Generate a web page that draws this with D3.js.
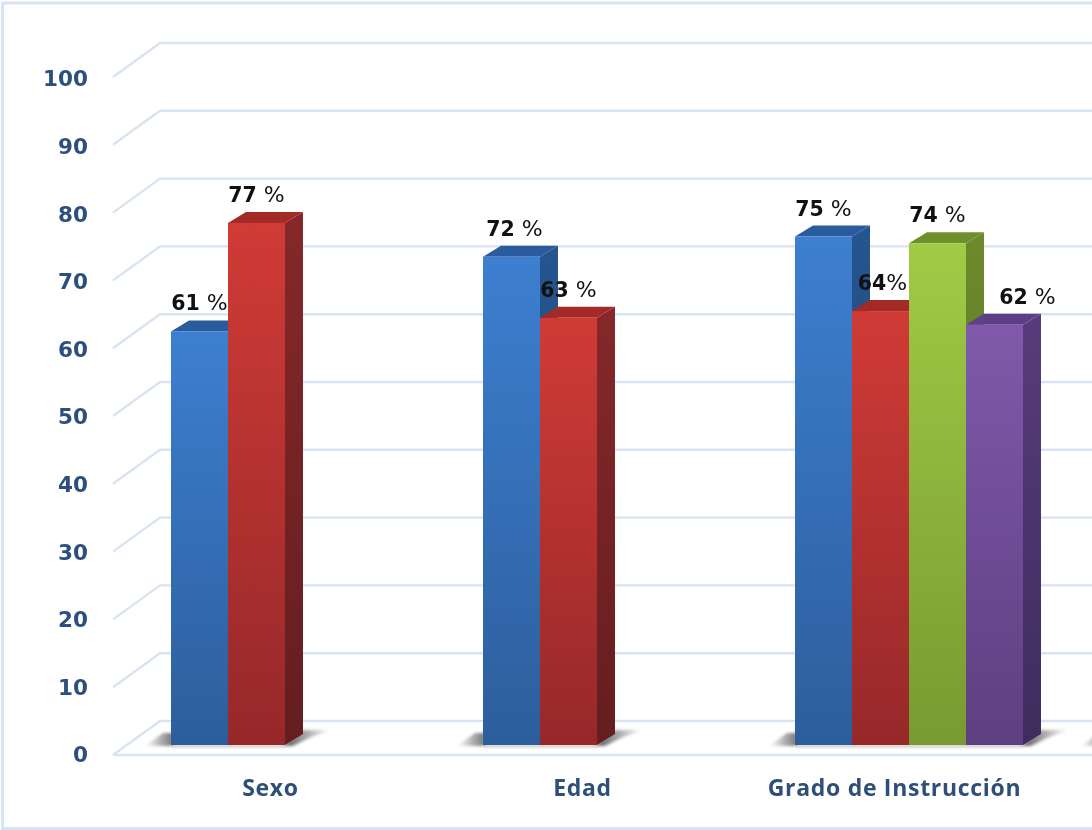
<!DOCTYPE html>
<html><head><meta charset="utf-8">
<script src="https://cdn.jsdelivr.net/npm/d3@7"></script>
<style>
html,body{margin:0;padding:0;background:#fff;overflow:hidden}
svg{display:block;filter:blur(0.4px)}
.tick text{font-family:"DejaVu Sans";font-weight:700;font-size:21.5px;fill:#2b4f7e}
.cat{font-family:"Open Sans";font-weight:700;font-size:23px;letter-spacing:0.7px;fill:#2f4f78;text-anchor:middle}
.lab{font-family:"DejaVu Sans";font-weight:700;font-size:20.5px;fill:#111;text-anchor:middle}
.lab .pct{font-weight:400;font-size:22px}
</style></head><body>
<script>
const categories=["Sexo","Edad","Grado de Instrucción"];
const sexoValues=[61,77];
const edadValues=[72,63];
const gradoValues=[75,64,74,62];
const groupValues=[sexoValues,edadValues,gradoValues];
const yTicks=[0,10,20,30,40,50,60,70,80,90,100];
const seriesColors=[
 {top:"#2a5b9c",side0:"#25558f",side1:"#1f4675",f0:"#3d7fd0",f1:"#2c5e9c"},
 {top:"#a42a27",side0:"#85282a",side1:"#651d1f",f0:"#d03b36",f1:"#96282a"},
 {top:"#6f8f2c",side0:"#6d8a2c",side1:"#566d22",f0:"#a0cb46",f1:"#789a30"},
 {top:"#5e3f87",side0:"#573c7c",side1:"#3f2c5c",f0:"#8059ab",f1:"#5e3f80"}
];
const W=1092,H=830;
const svg=d3.select("body").append("svg").attr("width",W).attr("height",H);
const defs=svg.append("defs");
function vg(id,a,b){const g=defs.append("linearGradient").attr("id",id).attr("x1",0).attr("x2",0).attr("y1",0).attr("y2",1);
 g.append("stop").attr("offset",0).attr("stop-color",a);g.append("stop").attr("offset",1).attr("stop-color",b);}
seriesColors.forEach((c,i)=>{vg("f"+i,c.f0,c.f1);vg("s"+i,c.side0,c.side1);});
function hg(id,a,oa,ob){const g=defs.append("linearGradient").attr("id",id).attr("x1",0).attr("x2",1).attr("y1",0).attr("y2",0);
 g.append("stop").attr("offset",0).attr("stop-color",a).attr("stop-opacity",oa);
 g.append("stop").attr("offset",1).attr("stop-color",a).attr("stop-opacity",ob);}
hg("shR","#3a3a3a",0.85,0);hg("shL","#3a3a3a",0,0.7);
const sb=defs.append("filter").attr("id","soft").attr("x","-20%").attr("y","-30%").attr("width","140%").attr("height","160%");
sb.append("feGaussianBlur").attr("stdDeviation",1.8);

// frame
const border="#d9e4f2";
svg.append("rect").attr("x",2.5).attr("y",3).attr("width",W+10).attr("height",H-3-1.5).attr("fill","#fff").attr("stroke",border).attr("stroke-width",3);

// scales
const y=d3.scaleLinear().domain([0,100]).range([745,67]);
const yLab=d3.scaleLinear().domain([0,100]).range([755,79]);
const depth={x:18,y:11};
const grid={front:113,back:160,dy:-34,fy:10};
const step=312,barW=57;
const x=d3.scaleBand().domain(d3.range(4)).range([72,72+4*step]).padding(0);
const groupLeft=i=>x(i)+99;
const catX=i=>x(i)+198.5;
const slot=d3.scaleBand().domain(d3.range(4)).range([0,4*barW]);

// grid
const gy=v=>y(v)+grid.fy;
const gridG=svg.append("g").attr("fill","none").attr("stroke","#d8e4f1").attr("stroke-width",2.4);
gridG.selectAll("path").data(yTicks).join("path")
 .attr("d",v=>d3.line()([[grid.front,gy(v)],[grid.back,gy(v)+grid.dy],[W,gy(v)+grid.dy]]));
gridG.append("path").attr("d",d3.line()([[grid.front,gy(0)],[W,gy(0)]]));

// y axis labels
svg.append("g").attr("transform","translate(88,0)")
 .call(d3.axisLeft(yLab).tickValues(yTicks).tickSize(0).tickPadding(0).tickFormat(d3.format("d")))
 .call(g=>g.select(".domain").remove());

// floor shadows
const base=y(0);
const shadowG=svg.append("g").attr("filter","url(#soft)");
d3.range(4).forEach(i=>{
 const gl=groupLeft(i);
 shadowG.append("path").attr("fill","url(#shL)")
  .attr("d",d3.line()([[gl-26,base+1],[gl-8,base-12],[gl+2,base-12],[gl+2,base+1]])+"Z");
});
groupValues.forEach((vals,i)=>{
 const l=groupLeft(i),r=l+vals.length*barW;
 shadowG.append("rect").attr("x",l).attr("y",base).attr("width",r-l).attr("height",2).attr("fill","#b4b4b4");
 shadowG.append("path").attr("fill","url(#shR)")
  .attr("d",d3.line()([[r-2,base+1],[r+18,base-15],[r+46,base-15],[r+24,base-7],[r+8,base+1]])+"Z");
});

// bars
const bars=svg.append("g");
const labels=[];
groupValues.forEach((vals,i)=>{
 vals.forEach((v,j)=>{
  const l=groupLeft(i)+slot(j),r=l+barW,t=y(v),c=j;
  const g=bars.append("g");
  g.append("path").attr("fill",`url(#s${c})`)
   .attr("d",d3.line()([[r,t],[r+depth.x,t-depth.y],[r+depth.x,base-depth.y],[r,base]])+"Z");
  g.append("path").attr("fill",seriesColors[c].top)
   .attr("d",d3.line()([[l,t],[l+depth.x,t-depth.y],[r+depth.x,t-depth.y],[r,t]])+"Z");
  g.append("rect").attr("x",l).attr("y",t).attr("width",barW).attr("height",base-t).attr("fill",`url(#f${c})`);
  labels.push({v,j,n:vals.length,cx:l+barW/2,t});
 });
});

// value labels
const lg=svg.append("g");
labels.forEach(d=>{
 const nudge=(d.n===4&&d.j===3)?33:(d.n===2&&d.j===0&&d.v===72)?3:0;
 const compact=d.n===4&&d.j===1;
 const txt=lg.append("text").attr("class","lab").attr("x",d.cx+nudge+(compact?2:0)).attr("y",d.t-21);
 txt.append("tspan").text(d.v);
 txt.append("tspan").attr("class","pct").attr("dx",compact?0:7).text("%");
});

// categories
svg.append("g").selectAll("text").data(categories).join("text").attr("class","cat")
 .attr("x",(d,i)=>catX(i)).attr("y",796).text(d=>d);
</script>
</body></html>
